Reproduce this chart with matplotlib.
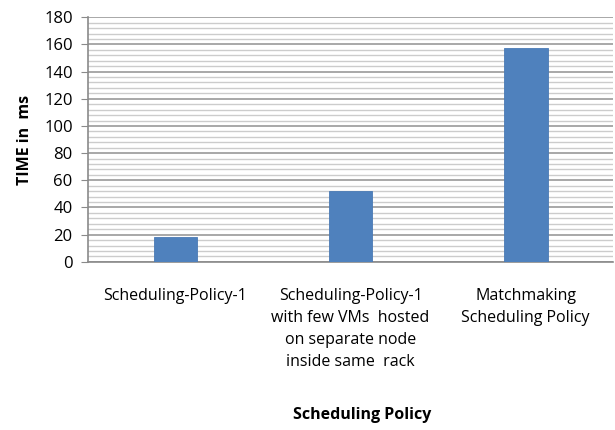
import matplotlib.pyplot as plt
import numpy as np
from matplotlib.ticker import MultipleLocator

categorias = ["Scheduling-Policy-1",
              "Scheduling-Policy-1\nwith few VMs  hosted\non separate node\ninside same  rack",
              "Matchmaking\nScheduling Policy"]
tempos = [18, 52, 157]

plt.rcParams['font.family'] = ['Open Sans', 'DejaVu Sans']

fig = plt.figure(figsize=(6.15, 4.3), dpi=100)
ax = fig.add_axes([0.143, 0.391, 0.854, 0.569])

x = np.arange(len(categorias))
ax.bar(x, tempos, width=0.25, color='#4f81bd', edgecolor='#4a7ab5', linewidth=0.6, zorder=3)

ax.set_xlim(-0.5, 2.5)
ax.set_ylim(0, 180)
ax.yaxis.set_major_locator(MultipleLocator(20))
ax.yaxis.set_minor_locator(MultipleLocator(4))
ax.grid(which='major', axis='y', color='#9a9a9a', linewidth=1.2, zorder=0)
ax.grid(which='minor', axis='y', color='#cccccc', linewidth=1.0, zorder=0)

ax.set_xticks(x)
ax.set_xticklabels(categorias, fontsize=11.5, linespacing=1.5, va='top')
ax.tick_params(axis='x', length=0, pad=19)
ax.tick_params(axis='y', which='major', length=5, color='#8a8a8a', labelsize=12, pad=6)
ax.tick_params(axis='y', which='minor', length=0)

for s in ['top', 'right']:
    ax.spines[s].set_visible(False)
ax.spines['left'].set_color('#8a8a8a')
ax.spines['bottom'].set_color('#8a8a8a')
ax.spines['left'].set_linewidth(1.2)
ax.spines['bottom'].set_linewidth(1.2)

ax.set_ylabel("TIME in  ms", fontsize=11.5, fontweight='bold', labelpad=8)
fig.text(0.589, 0.025, "Scheduling Policy", fontsize=11.5, fontweight='bold', ha='center')

fig.savefig("out.png", dpi=100)
